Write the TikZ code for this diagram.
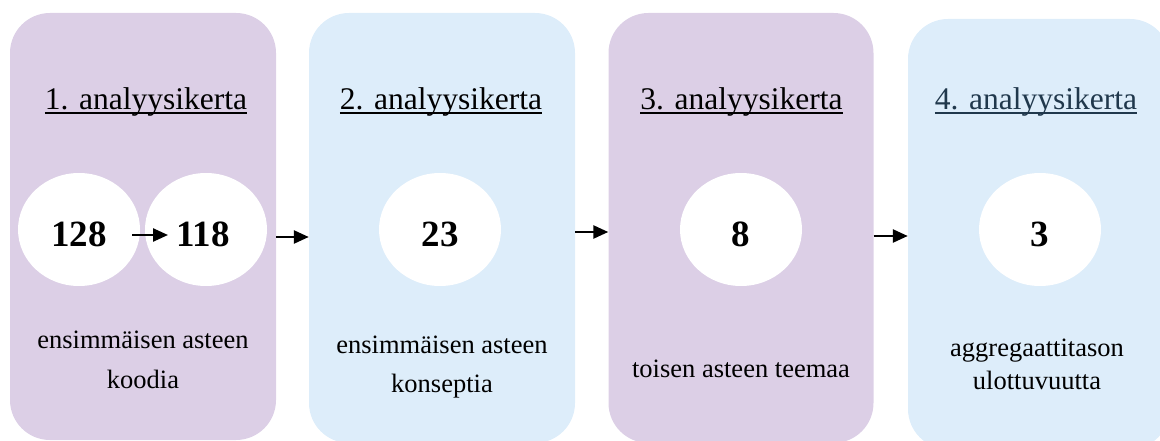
\documentclass[tikz,border=0pt]{standalone}
\usepackage{fontspec}
\setmainfont{Liberation Serif}
\usetikzlibrary{arrows.meta,shapes.geometric}
\definecolor{lav}{RGB}{220,207,230}
\definecolor{sky}{RGB}{221,237,250}
\definecolor{navy}{RGB}{32,56,76}
\tikzset{
  panel/.style={rectangle, rounded corners=40pt, inner sep=0pt, draw=none},
  disc/.style={ellipse, fill=white, draw=none, minimum width=122pt, minimum height=113pt, inner sep=0pt},
  title/.style={anchor=base, inner sep=0pt, font=\fontsize{31.5}{36}\selectfont},
  num/.style={anchor=base, inner sep=0pt, font=\fontsize{37}{40}\selectfont\bfseries},
  body/.style={anchor=base, inner sep=0pt, font=\fontsize{26.5}{30}\selectfont},
  arr/.style={line width=2.5pt, -{Triangle[length=15pt,width=13pt]}},
  uline/.style={line width=1.8pt}
}
\begin{document}
\begin{tikzpicture}[x=1pt,y=-1pt]
\useasboundingbox (0,0) rectangle (1160,441);
\clip (0,0) rectangle (1160,441);
% panels
\node[panel, fill=lav, minimum width=266pt, minimum height=427pt] (b1) at (143,226.5) {};
\node[panel, fill=sky, minimum width=266pt, minimum height=430pt] (b2) at (442,228) {};
\node[panel, fill=lav, minimum width=265pt, minimum height=430pt] (b3) at (741,228) {};
\node[panel, fill=sky, minimum width=262pt, minimum height=430pt] (b4) at (1039,234) {};
% titles
\node[title] (t1) at (146,110) {1. analyysikerta};
\node[title] (t2) at (441,110) {2. analyysikerta};
\node[title] (t3) at (741.5,110) {3. analyysikerta};
\node[title, text=navy] (t4) at (1036,110) {4. analyysikerta};
\draw[uline] ([yshift=-3pt]t1.base west) -- ([yshift=-3pt]t1.base east);
\draw[uline] ([yshift=-3pt]t2.base west) -- ([yshift=-3pt]t2.base east);
\draw[uline] ([yshift=-3pt]t3.base west) -- ([yshift=-3pt]t3.base east);
\draw[uline, navy] ([yshift=-3pt]t4.base west) -- ([yshift=-3pt]t4.base east);
% discs
\node[disc] (e1) at (79,229.5) {};
\node[disc] (e2) at (206,229.5) {};
\node[disc] (e3) at (440,229.5) {};
\node[disc] (e4) at (741,229.5) {};
\node[disc] (e5) at (1040,229.5) {};
% numbers
\node[num] (n1) at (79,246) {128};
\node[num] (n2) at (203,246) {118};
\node[num] (n3) at (440,246) {23};
\node[num] (n4) at (741,246) {8};
\node[num] (n5) at (1040,246) {3};
% body text
\node[body] (s1a) at (143,348) {ensimmäisen asteen};
\node[body] (s1b) at (143,388) {koodia};
\node[body] (s2a) at (442,353) {ensimmäisen asteen};
\node[body] (s2b) at (442,392) {konseptia};
\node[body] (s3) at (741,377) {toisen asteen teemaa};
\node[body] (s4a) at (1037,356) {aggregaattitason};
\node[body] (s4b) at (1037,389) {ulottuvuutta};
% arrows
\draw[arr] ([xshift=53pt,yshift=-5.5pt]e1.center) -- ([xshift=-38pt,yshift=-5.5pt]e2.center);
\draw[arr] (b1.east |- 0,237) -- (b2.west |- 0,237);
\draw[arr] (b2.east |- 0,232) -- (b3.west |- 0,232);
\draw[arr] (b3.east |- 0,236) -- (b4.west |- 0,236);
\end{tikzpicture}
\end{document}
